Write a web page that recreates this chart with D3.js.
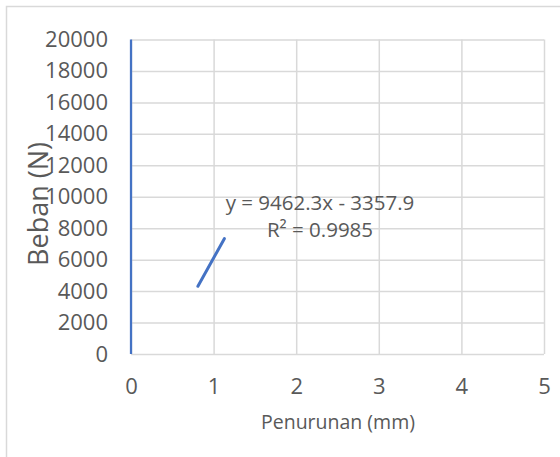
<!DOCTYPE html>
<html><head><meta charset="utf-8">
<script src="https://cdn.jsdelivr.net/npm/d3@7"></script>
<style>
body{margin:0;background:#fff}
svg{display:block}
text{font-family:"Open Sans",sans-serif;fill:#595959}
</style></head>
<body>
<script>
// Data
const seriesPenurunan = [0, 0];          // mm
const seriesBeban = [0, 20000];          // N
const trendPenurunan = [0.81, 1.13];     // trendline x-extent (mm)
const trendSlope = 9462.3;
const trendIntercept = -3357.9;
const trendLabel = ["y = 9462.3x - 3357.9", "R² = 0.9985"];
const xTicks = [0, 1, 2, 3, 4, 5];
const yTicks = [0, 2000, 4000, 6000, 8000, 10000, 12000, 14000, 16000, 18000, 20000];
const xTitle = "Penurunan (mm)";
const yTitle = "Beban (N)";

const W = 560, H = 457;
const svg = d3.select("body").append("svg").attr("width", W).attr("height", H);

// chart area border (left & top visible)
svg.append("path").attr("d", `M6.5,${H} V6.5 H${W}`)
  .attr("fill", "none").attr("stroke", "#d9d9d9").attr("stroke-width", 1.5);

const x = d3.scaleLinear().domain([0, 5]).range([131, 544]);
const y = d3.scaleLinear().domain([0, 20000]).range([354, 39.5]);

// Y axis with gridlines
const gy = svg.append("g").attr("transform", `translate(${x(0)},0)`)
  .call(d3.axisLeft(y).tickValues(yTicks).tickSize(-(x(5) - x(0))).tickPadding(23).tickFormat(d3.format("d")));
gy.select(".domain").remove();
gy.selectAll(".tick line").attr("stroke", "#d9d9d9").attr("stroke-width", 1.5);
gy.selectAll(".tick text").attr("font-size", 22).attr("fill", "#595959");

// X axis with gridlines
const gx = svg.append("g").attr("transform", `translate(0,${y(0)})`)
  .call(d3.axisBottom(x).tickValues(xTicks).tickSize(-(y(0) - y(20000))).tickPadding(24).tickFormat(d3.format("d")));
gx.select(".domain").remove();
gx.selectAll(".tick line").attr("stroke", "#d9d9d9").attr("stroke-width", 1.5);
gx.selectAll(".tick text").attr("font-size", 22).attr("fill", "#595959");

// data series
const line = d3.line().x(d => x(d[0])).y(d => y(d[1]));
svg.append("path")
  .datum(seriesPenurunan.map((v, i) => [v, seriesBeban[i]]))
  .attr("d", line).attr("fill", "none").attr("stroke", "#4472C4").attr("stroke-width", 2.25);

// trendline
svg.append("path")
  .datum(trendPenurunan.map(v => [v, trendSlope * v + trendIntercept]))
  .attr("d", line).attr("fill", "none").attr("stroke", "#4472C4")
  .attr("stroke-width", 3).attr("stroke-linecap", "round");

// trendline label
const lbl = svg.append("text").attr("text-anchor", "middle").attr("font-size", 20.5);
lbl.append("tspan").attr("x", 320).attr("y", 210).text(trendLabel[0]);
lbl.append("tspan").attr("x", 320).attr("y", 237).text(trendLabel[1]);

// axis titles
svg.append("text").attr("x", 338).attr("y", 429).attr("text-anchor", "middle")
  .attr("font-size", 19.5).text(xTitle);
svg.append("text").attr("transform", "translate(48,204) rotate(-90)")
  .attr("text-anchor", "middle").attr("font-size", 27).text(yTitle);
</script>
</body></html>
